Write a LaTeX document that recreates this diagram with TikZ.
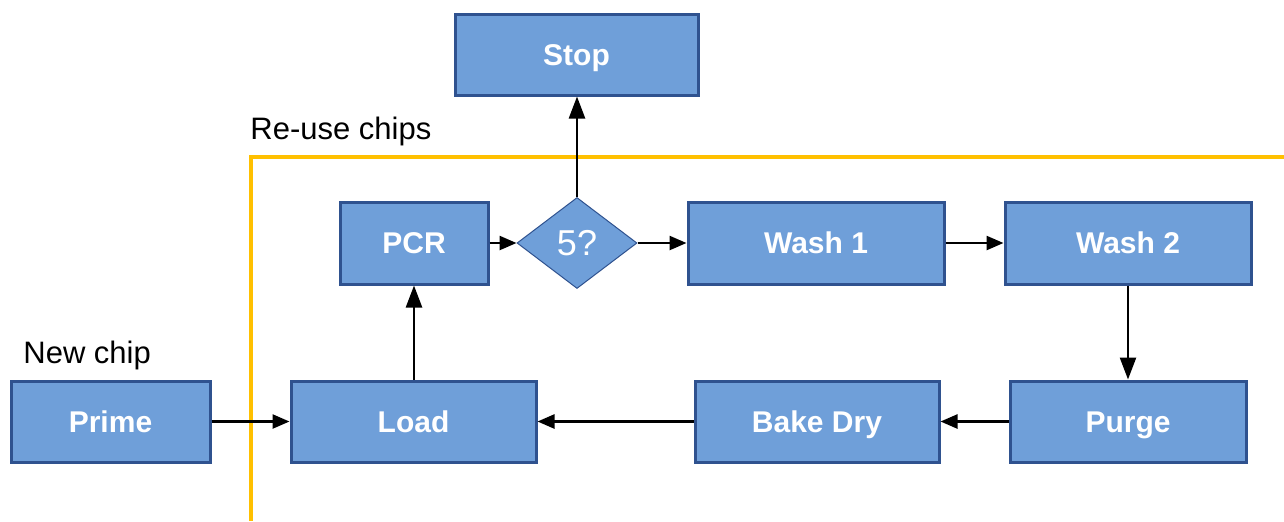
\documentclass[tikz,border=0pt]{standalone}
\usepackage{fontspec}
\setmainfont{Liberation Sans}
\usetikzlibrary{shapes.geometric,arrows.meta}
\definecolor{boxfill}{HTML}{6F9FD9}
\definecolor{boxline}{HTML}{2F528F}
\definecolor{gold}{HTML}{FFC000}
\tikzset{
  stepbox/.style={draw=boxline, fill=boxfill, line width=1.5pt, text=white,
    font=\fontsize{15}{18}\selectfont\bfseries, inner sep=0pt,
    text height=10.8pt, text depth=0pt},
  decision/.style={diamond, draw=boxline, fill=boxfill, line width=0.5pt, text=white,
    font=\fontsize{18}{21}\selectfont, inner sep=0pt, aspect=1.3},
  flow/.style={draw=black, line width=1.25pt, -{Triangle[length=8.5pt,width=7pt]}},
  rise/.style={draw=black, line width=1.25pt, -{Triangle[length=11pt,width=8pt]}},
  caption/.style={font=\fontsize{15.5}{18}\selectfont, anchor=west, inner sep=0pt},
}
\begin{document}
\begin{tikzpicture}[x=0.5pt,y=-0.5pt]
\useasboundingbox (0,0) rectangle (1284,521);
% re-use loop boundary
\draw[gold, line width=2pt] (251,521) -- (251,157) -- (1284,157);
\node[caption] (reuse) at (250,131) {Re-use chips};
\node[caption] (newchip) at (23,355) {New chip};
% process steps
\node[stepbox, minimum width=121.5pt, minimum height=40.5pt] (stop) at (576.5,54.5) {Stop};
\node[stepbox, minimum width=74pt, minimum height=41pt] (pcr) at (414,243) {PCR};
\node[decision, minimum width=60pt, minimum height=45.5pt] (dec) at (577,243) {5?};
\node[stepbox, minimum width=128pt, minimum height=41pt] (wash1) at (816,243) {Wash 1};
\node[stepbox, minimum width=123pt, minimum height=41pt] (wash2) at (1128,243) {Wash 2};
\node[stepbox, minimum width=99.5pt, minimum height=40.5pt] (prime) at (110.5,421.5) {Prime};
\node[stepbox, minimum width=122.5pt, minimum height=40.5pt] (load) at (413.5,421.5) {Load};
\node[stepbox, minimum width=122pt, minimum height=40.5pt] (bake) at (817,421.5) {Bake Dry};
\node[stepbox, minimum width=118pt, minimum height=40.5pt] (purge) at (1128,421.5) {Purge};
% connectors
\draw[flow] (prime) -- (load);
\draw[rise] (load.north -| pcr.south) -- (pcr.south);
\draw[flow] (pcr) -- (dec);
\draw[flow] (dec) -- (wash1);
\draw[rise] (dec.north) -- (dec.north |- stop.south);
\draw[flow] (wash1) -- (wash2);
\draw[rise] (wash2) -- (purge);
\draw[flow] (purge) -- (bake);
\draw[flow] (bake) -- (load);
\end{tikzpicture}
\end{document}
